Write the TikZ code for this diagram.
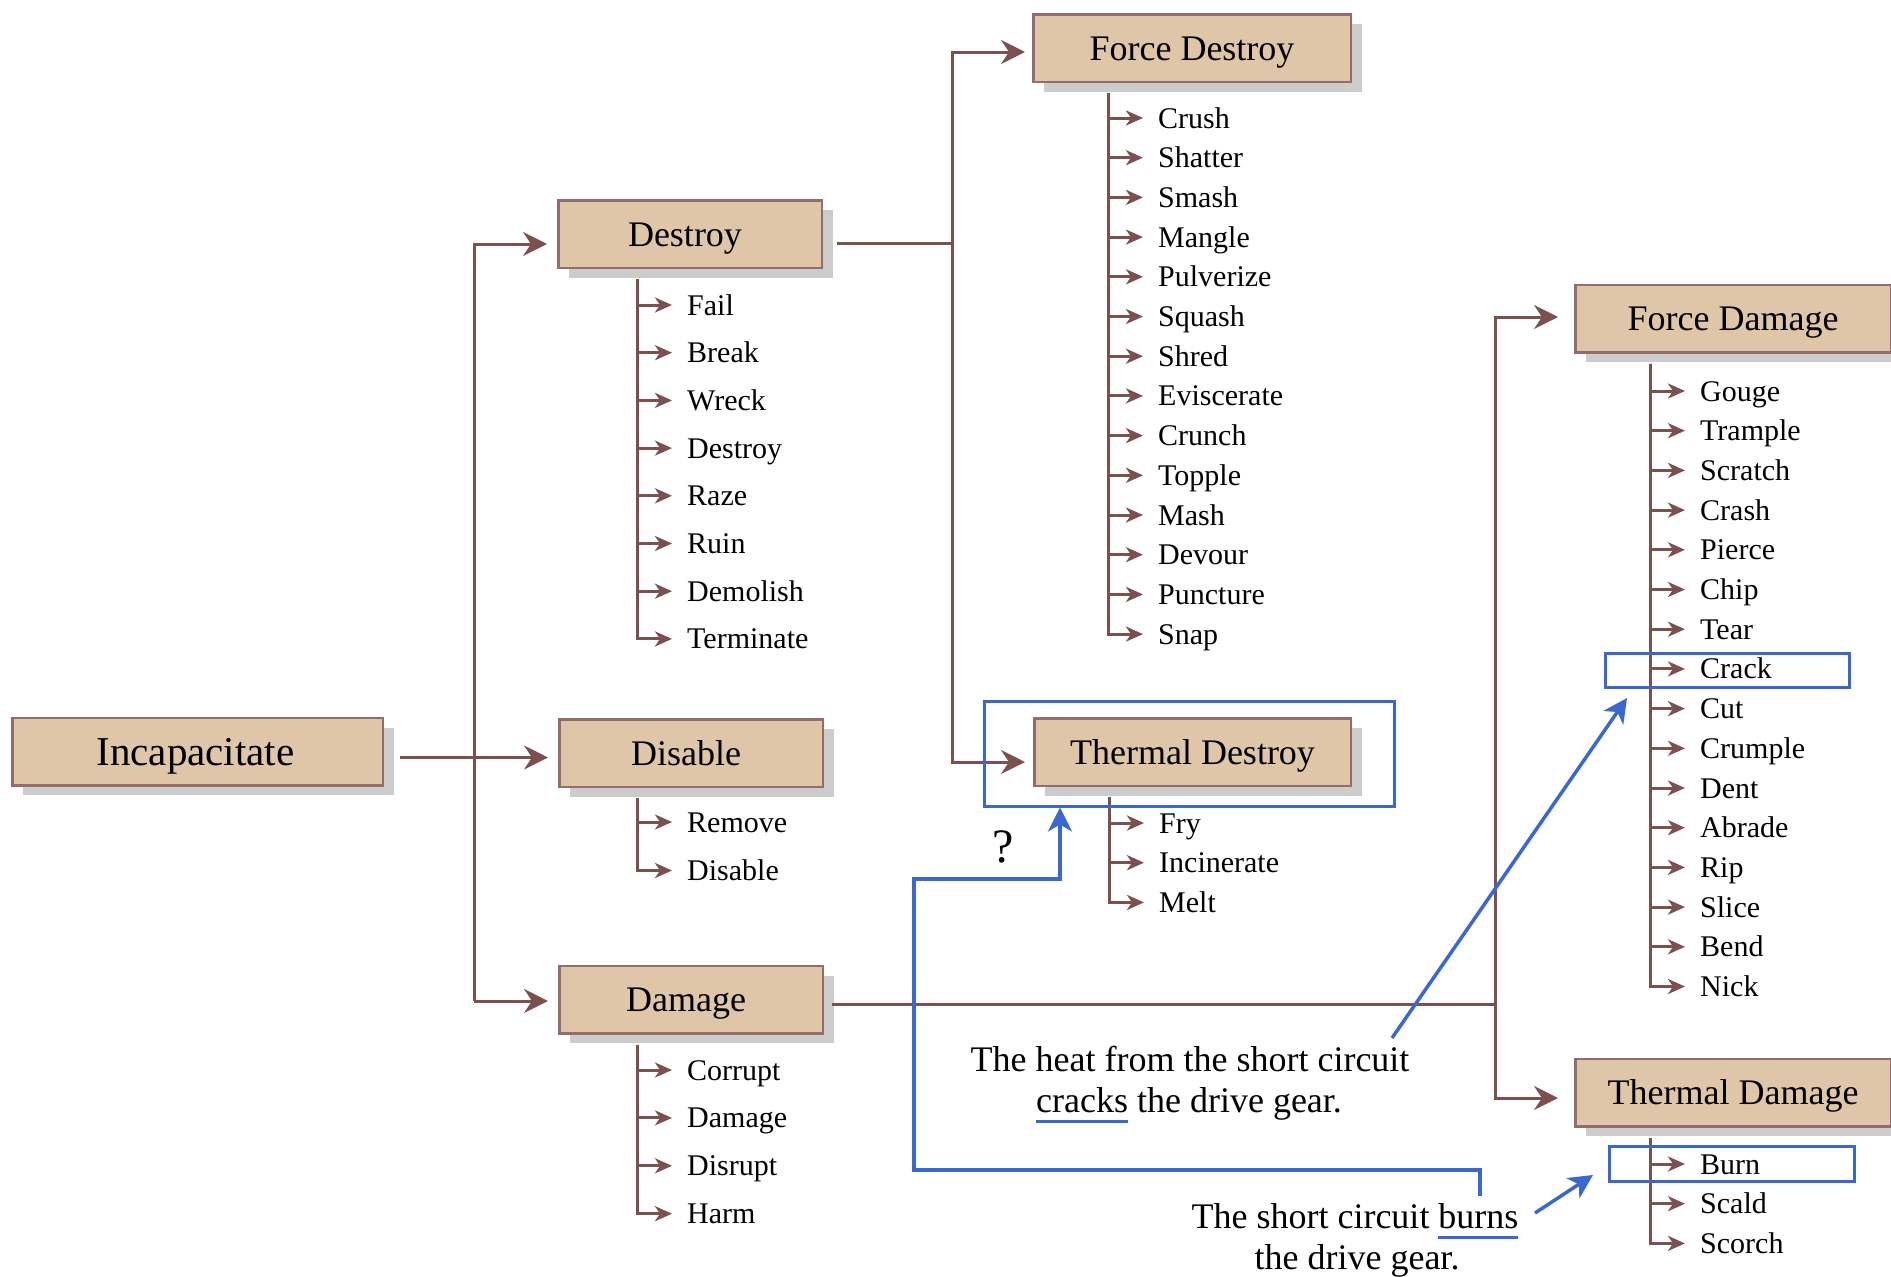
\documentclass[tikz,border=0pt]{standalone}
\usepackage{fontspec}
\setmainfont{Liberation Serif}
\usetikzlibrary{arrows.meta,shadows,calc}
\definecolor{boxfill}{RGB}{223,198,169}
\definecolor{boxline}{RGB}{145,110,107}
\definecolor{wirec}{RGB}{125,80,80}
\definecolor{shade}{RGB}{204,204,204}
\definecolor{hl}{RGB}{58,104,208}
\newcommand\hlul[1]{\setbox0\hbox{#1}\rlap{\textcolor{hl}{\rule[-11pt]{\wd0}{3pt}}}\box0\relax}
\newcommand\itemgroup[7]{% #1 parent, #2 prefix, #3 dx from parent.south, #4 tree x, #5 first y, #6 step, #7 list
  \foreach \t [count=\i from 0] in {#7}{%
    \node[leaf] (#2\i) at ({#4+50},{#5+#6*\i}) {\t};
    \draw[itemarr] ($(#1.south)+(#3,10)$) |- ([xshift=-15pt,yshift=10pt]#2\i.base west);
  }}
\begin{document}
\begin{tikzpicture}[x=1pt,y=-1pt,
  catbox/.style={draw=boxline, fill=boxfill, line width=2.5pt,
    drop shadow={shadow xshift=11pt, shadow yshift=-10pt, fill=shade, opacity=1, draw=none},
    inner sep=0pt, minimum height=67.5pt, text height=24pt, text depth=0pt,
    font=\fontsize{36}{43}\selectfont},
  wire/.style={draw=wirec, line width=3pt},
  mainarr/.style={wire, -{Stealth[length=24pt,width=24pt,inset=8pt]}},
  itemarr/.style={wire, -{Stealth[length=17pt,width=15pt,inset=5pt]}},
  leaf/.style={anchor=base west, inner sep=0pt, yshift=-10pt, font=\fontsize{30}{36}\selectfont},
  hlbox/.style={draw=hl, line width=3pt, inner sep=0pt},
  hlarr/.style={draw=hl, line width=3.5pt, -{Stealth[length=24pt,width=24pt,inset=7pt]}},
  annot/.style={anchor=base, inner sep=0pt, font=\fontsize{36}{42}\selectfont}
]
\useasboundingbox (0,0) rectangle (1891,1277);

% category boxes
\node[catbox, minimum width=370.5pt, text height=27pt, font=\fontsize{41}{48}\selectfont] (inc) at (197.5,751.5) {\hspace*{-4pt}Incapacitate};
\node[catbox, minimum width=263.5pt] (destroy) at (690,234) {\hspace*{-10pt}Destroy};
\node[catbox, minimum width=263.5pt] (disable) at (691,753) {\hspace*{-10pt}Disable};
\node[catbox, minimum width=263.5pt] (damage) at (691,999.5) {\hspace*{-10pt}Damage};
\node[catbox, minimum width=317.5pt] (fdestroy) at (1192,48) {Force Destroy};
\node[catbox, minimum width=316.5pt] (tdestroy) at (1192.5,752) {Thermal Destroy};
\node[catbox, minimum width=315.5pt] (fdamage) at (1733,318.5) {Force Damage};
\node[catbox, minimum width=315.5pt] (tdamage) at (1733,1092.5) {Thermal Damage};

% main connectors
\coordinate (tt) at (474,244);
\coordinate (tm) at (474,757.5);
\coordinate (tb) at (474,1001);
\draw[wire] ($(inc.east)+(16,6)$) -- (tm);
\draw[mainarr] (tb) -- (tt) -- ($(destroy.west)+(-10,10)$);
\draw[mainarr] (tm) -- ($(disable.west)+(-10,4.5)$);
\draw[mainarr] (tb) -- ($(damage.west)+(-10,1.5)$);

\coordinate (dj) at (952,243);
\draw[wire] ($(destroy.east)+(14,9)$) -- (dj);
\draw[mainarr] (dj) |- ($(fdestroy.west)+(-7,4)$);
\draw[mainarr] (dj) |- ($(tdestroy.west)+(-8,10)$);

\coordinate (mj) at (1495,1004);
\draw[wire] ($(damage.east)+(8,4.5)$) -- (mj);
\draw[mainarr] (mj) |- ($(fdamage.west)+(-16,-1.5)$);
\draw[mainarr] (mj) |- ($(tdamage.west)+(-16,5.5)$);

% item lists
\itemgroup{destroy}{ds}{-53}{637}{305}{47.7}{Fail,Break,Wreck,Destroy,Raze,Ruin,Demolish,Terminate}
\itemgroup{disable}{dl}{-54}{637}{822}{48.5}{Remove,Disable}
\itemgroup{damage}{dm}{-54}{637}{1070}{47.9}{Corrupt,Damage,Disrupt,Harm}
\itemgroup{fdestroy}{fd}{-84}{1108}{118}{39.7}{Crush,Shatter,Smash,Mangle,Pulverize,Squash,Shred,Eviscerate,Crunch,Topple,Mash,Devour,Puncture,Snap}
\itemgroup{tdestroy}{td}{-83.5}{1109}{823}{39.7}{Fry,Incinerate,Melt}
\itemgroup{fdamage}{fm}{-83}{1650}{391}{39.7}{Gouge,Trample,Scratch,Crash,Pierce,Chip,Tear,Crack,Cut,Crumple,Dent,Abrade,Rip,Slice,Bend,Nick}
\itemgroup{tdamage}{tm}{-83}{1650}{1164}{39.7}{Burn,Scald,Scorch}

% highlight boxes
\node[hlbox, minimum width=410pt, minimum height=105pt] (tdbox) at (1189,753.5) {};
\node[hlbox, minimum width=244pt, minimum height=34pt] (crbox) at (1727,670) {};
\node[hlbox, minimum width=245pt, minimum height=35pt] (bnbox) at (1731.5,1163.5) {};

% annotations
\node[annot] (n1a) at (1190,1071) {The heat from the short circuit};
\node[annot] (n1b) at (1189,1112) {\hlul{cracks} the drive gear.};
\node[annot] (n2a) at (1355,1228) {The short circuit \hlul{burns}};
\node[annot] (n2b) at (1357,1269) {the drive gear.};
\node[inner sep=0pt, font=\fontsize{48}{52}\selectfont] (qm) at (1003,847) {?};

\coordinate (b0) at (1480,1196);
\coordinate (b1) at (1060,879);
\draw[hlarr] (b0) |- (914,1170) -- (914,879) -- (b1) -- (b1 |- tdbox.south);
\coordinate (c0) at (1392,1038);
\coordinate (c1) at (1627,698);
\draw[hlarr] (c0) -- (c1);
\coordinate (e0) at (1535,1213);
\coordinate (e1) at (1593,1175);
\draw[hlarr] (e0) -- (e1);
\end{tikzpicture}
\end{document}
